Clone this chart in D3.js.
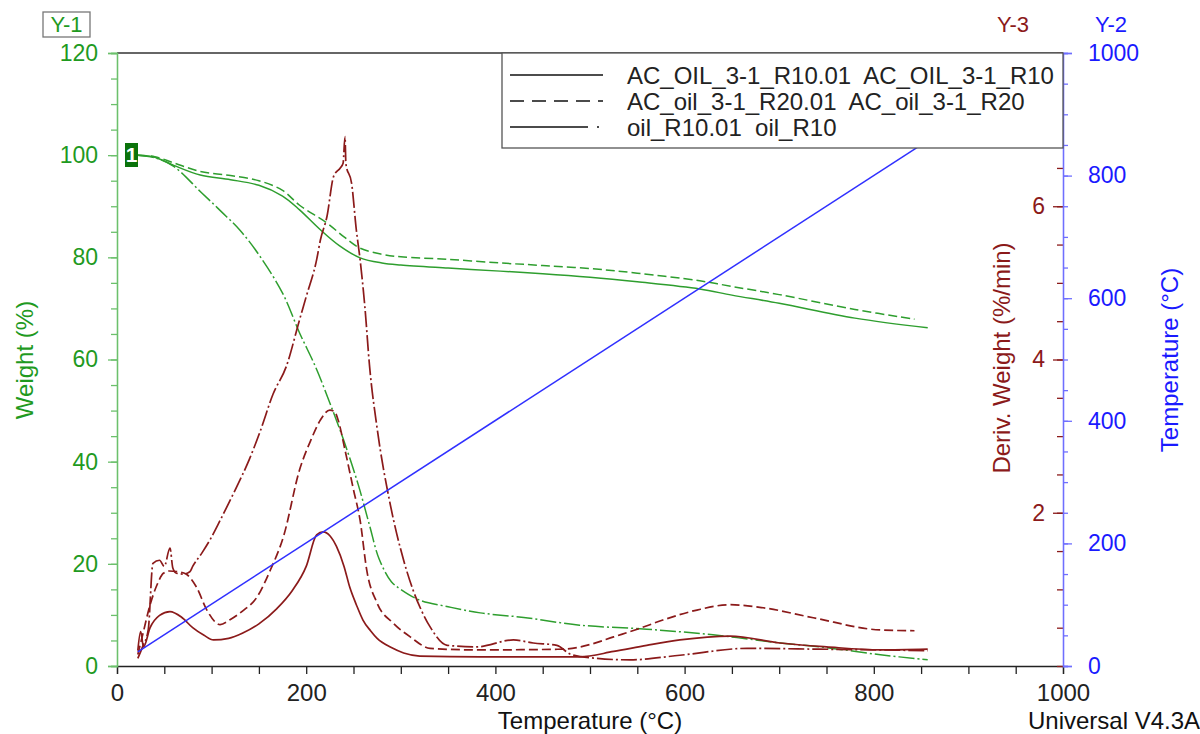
<!DOCTYPE html>
<html>
<head>
<meta charset="utf-8">
<script src="https://cdn.jsdelivr.net/npm/d3@7"></script>
<style>
  body { margin: 0; background: #fff; }
  svg text { font-family: "Liberation Sans", Arial, sans-serif; }
</style>
</head>
<body>
<div id="chart"></div>
<script>
// ====== TGA / DTG plot ======
// weight (Y-1), sample temperature (Y-2) and deriv. weight (Y-3) vs temperature

// legend entries (solid, dashed, dash-dot)
const sampleNames = ["AC_OIL_3-1_R10.01  AC_OIL_3-1_R10",
                     "AC_oil_3-1_R20.01  AC_oil_3-1_R20",
                     "oil_R10.01  oil_R10"];

// tick labels
const xLabels = [0, 200, 400, 600, 800, 1000];
const weightLabels = [0, 20, 40, 60, 80, 100, 120];
const tempLabels = [0, 200, 400, 600, 800, 1000];
const derivLabels = [2, 4, 6];

// weight (%) vs temperature (°C)
const wR10 = [[22,100],[40,99.6],[60,98],[88,96.1],[120,95.2],[150,94.1],[175,92],[193,89.3],
  [215,85.4],[235,82.3],[257,79.9],[280,78.9],[300,78.5],[350,77.9],[405,77.3],[450,76.8],
  [500,76.1],[550,75.2],[616,73.8],[650,72.6],[700,71],[780,68.1],[857,66.2]];
const wR20 = [[22,100],[40,99.7],[60,98.5],[88,96.8],[120,96],[150,95],[175,93.1],[193,90.2],
  [222,86.7],[240,84],[257,81.8],[280,80.6],[300,80.1],[350,79.6],[405,78.9],[450,78.4],
  [500,77.8],[550,76.9],[616,75.4],[650,74.3],[700,72.7],[780,69.8],[843,67.9]];
const wOil = [[22,100],[40,99.5],[60,97.8],[88,92.9],[110,89],[130,85.3],[150,80.5],[175,73],
  [193,65.2],[210,58.5],[225,51.5],[240,44],[255,35.5],[267,27.5],[277,21],[290,16.5],[300,15],
  [320,12.9],[350,11.6],[384,10.4],[430,9.5],[489,8.0],[560,7.2],[630,6.1],[701,4.5],[750,3.6],
  [807,2.2],[857,1.2]];

// deriv. weight (%/min) vs temperature (°C)
const dR10 = [[22,0.2],[25,0.45],[28,0.25],[35,0.5],[45,0.66],[56,0.71],[68,0.64],[80,0.5],
  [92,0.4],[102,0.34],[118,0.36],[133,0.43],[150,0.55],[169,0.75],[185,0.98],[200,1.3],
  [211,1.71],[218,1.75],[225,1.7],[232,1.56],[240,1.3],[246,1.03],[253,0.8],[260,0.6],
  [268,0.46],[275,0.36],[290,0.24],[303,0.17],[320,0.13],[384,0.12],[450,0.12],[489,0.12],
  [525,0.19],[560,0.27],[595,0.34],[648,0.39],[701,0.3],[750,0.25],[807,0.21],[857,0.22]];
const dR20 = [[22,0.15],[27,0.4],[35,0.8],[42,1.05],[49,1.21],[55,1.24],[65,1.23],[73,1.2],
  [84,1.03],[95,0.73],[109,0.54],[119,0.6],[133,0.72],[148,0.9],[162,1.25],[176,1.69],
  [193,2.56],[205,2.95],[215,3.21],[225,3.34],[230,3.32],[234,3.2],[241,2.82],[250,2.3],
  [257,1.9],[264,1.25],[275,0.82],[292,0.56],[310,0.38],[331,0.23],[380,0.21],[472,0.22],
  [500,0.28],[525,0.38],[550,0.48],[577,0.6],[613,0.73],[648,0.8],[683,0.76],[736,0.63],
  [807,0.47],[843,0.46]];
const dOil = [[22,0.1],[27,0.25],[33,0.47],[38,1.34],[45,1.38],[50,1.3],[56,1.54],[59,1.28],
  [63,1.21],[70,1.2],[77,1.23],[80,1.3],[90,1.48],[98,1.64],[109,1.9],[125,2.3],[140,2.7],
  [151,3.05],[165,3.55],[179,3.91],[193,4.52],[200,4.82],[211,5.3],[215,5.56],[222,5.87],
  [229,6.39],[236,6.5],[239,6.56],[241,6.91],[242,6.55],[248,6.3],[253,5.69],[257,5.3],
  [262,4.69],[267,3.91],[275,3.1],[289,2.1],[303,1.38],[313,0.99],[322,0.72],[331,0.51],
  [349,0.27],[380,0.25],[419,0.34],[440,0.3],[465,0.27],[480,0.15],[507,0.1],[542,0.08],
  [595,0.14],[666,0.23],[740,0.22],[807,0.21],[857,0.2]];

// sample temperature (°C) vs temperature (°C)
const tempRamp = [[22,23],[857,857]];

let W = 1200, H = 734;
let plot = {left: 117, right: 1063, top: 53, bottom: 666};

let green = "#2e9e2e", greenText = "#1f9a1f", darkRed = "#8b1a1a", blue = "#1a1aff";
let dashed = "9,4", dashDot = "16,3,2,3";

let svg = d3.select("#chart").append("svg")
    .attr("width", W)
    .attr("height", H);

let x = d3.scaleLinear().domain([0, 1000]).range([plot.left, plot.right]);
let yW = d3.scaleLinear().domain([0, 120]).range([plot.bottom, plot.top]);
let yT = d3.scaleLinear().domain([0, 1000]).range([plot.bottom, plot.top]);
let yD = d3.scaleLinear().domain([0, 8]).range([plot.bottom, plot.top]);

function styleAxis(g, color, size) {
    g.select(".domain").attr("stroke", color).attr("stroke-width", 1.3);
    g.selectAll(".tick line").attr("stroke", color).attr("stroke-width", 1.3);
    g.selectAll(".tick text").attr("fill", color).style("font-size", size + "px");
}

// top frame line
svg.append("line")
    .attr("x1", plot.left).attr("x2", plot.right)
    .attr("y1", plot.top).attr("y2", plot.top)
    .attr("stroke", "#333").attr("stroke-width", 1.3);

// x axis
svg.append("g")
    .attr("transform", "translate(0," + plot.bottom + ")")
    .call(d3.axisBottom(x).tickValues(d3.range(0, 1001, 50)).tickSize(8).tickPadding(10)
        .tickFormat(d => xLabels.includes(d) ? d : ""))
    .call(g => styleAxis(g, "#222", 24));

// left weight axis
svg.append("g")
    .attr("transform", "translate(" + plot.left + ",0)")
    .call(d3.axisLeft(yW).tickValues(d3.range(0, 121, 5)).tickSize(6).tickFormat(""))
    .call(g => styleAxis(g, "#6cc06c", 23));
svg.append("g")
    .attr("transform", "translate(" + plot.left + ",0)")
    .call(d3.axisLeft(yW).tickValues(weightLabels).tickSize(9).tickPadding(10))
    .call(g => styleAxis(g, "#6cc06c", 23))
    .call(g => g.selectAll(".tick text").attr("fill", greenText));

// right deriv axis (ticks inward)
svg.append("g")
    .attr("transform", "translate(" + plot.right + ",0)")
    .call(d3.axisLeft(yD).tickValues(d3.range(0, 8.01, 0.5)).tickSize(6).tickFormat(""))
    .call(g => styleAxis(g, darkRed, 23))
    .call(g => g.select(".domain").remove());
svg.append("g")
    .attr("transform", "translate(" + plot.right + ",0)")
    .call(d3.axisLeft(yD).tickValues(derivLabels).tickSize(10).tickPadding(8))
    .call(g => styleAxis(g, darkRed, 23))
    .call(g => g.select(".domain").remove());

// right temperature axis (ticks outward)
svg.append("g")
    .attr("transform", "translate(" + plot.right + ",0)")
    .call(d3.axisRight(yT).tickValues(d3.range(0, 1001, 50)).tickSize(5).tickFormat(""))
    .call(g => styleAxis(g, "#6f6fff", 23));
svg.append("g")
    .attr("transform", "translate(" + plot.right + ",0)")
    .call(d3.axisRight(yT).tickValues(tempLabels).tickSize(9).tickPadding(16).tickFormat(d3.format("d")))
    .call(g => styleAxis(g, "#6f6fff", 23))
    .call(g => g.selectAll(".tick text").attr("fill", blue));

// curves (weight curves smooth, deriv curves keep their spikes)
let series = [
    {data: wR10, y: yW, color: green, dash: null, width: 1.5, smooth: true},
    {data: wR20, y: yW, color: green, dash: dashed, width: 1.5, smooth: true},
    {data: wOil, y: yW, color: green, dash: dashDot, width: 1.5, smooth: true},
    {data: dR10, y: yD, color: darkRed, dash: null, width: 1.7},
    {data: dR20, y: yD, color: darkRed, dash: dashed, width: 1.7},
    {data: dOil, y: yD, color: darkRed, dash: dashDot, width: 1.7},
    {data: tempRamp, y: yT, color: "#3030ff", dash: null, width: 1.5}
];

series.forEach(function(s) {
    let line = d3.line()
        .x(function(d) { return x(d[0]); })
        .y(function(d) { return s.y(d[1]); })
        .curve(s.smooth ? d3.curveCatmullRom.alpha(0.5) : d3.curveMonotoneX);
    svg.append("path")
        .datum(s.data)
        .attr("d", line)
        .attr("fill", "none")
        .attr("stroke", s.color)
        .attr("stroke-width", s.width)
        .attr("stroke-dasharray", s.dash);
});

// start marker "1"
svg.append("rect")
    .attr("x", 125).attr("y", 143).attr("width", 13).attr("height", 24)
    .attr("fill", "#0b730b");
svg.append("text")
    .attr("x", 131.5).attr("y", 162)
    .style("text-anchor", "middle")
    .style("font-size", "21px")
    .style("font-weight", "bold")
    .attr("fill", "#fff")
    .text("1");

// legend
let legend = svg.append("g").attr("class", "legend");
legend.append("rect")
    .attr("x", 502).attr("y", plot.top).attr("width", plot.right - 502).attr("height", 95)
    .attr("fill", "#fff").attr("stroke", "#555").attr("stroke-width", 1.3);

let legendDash = [null, "14,8", "78,9,2,100"];
let row = legend.selectAll(".legend-row")
    .data(sampleNames)
    .enter().append("g")
    .attr("class", "legend-row")
    .attr("transform", function(d, i) { return "translate(0," + (75 + i * 26) + ")"; });

row.append("line")
    .attr("x1", 510).attr("x2", function(d, i) { return i === 2 ? 600 : 603; })
    .attr("y1", 0).attr("y2", 0)
    .attr("stroke", "#111").attr("stroke-width", 1.5)
    .attr("stroke-dasharray", function(d, i) { return legendDash[i]; });

row.append("text")
    .attr("x", 627).attr("y", 8.5)
    .style("font-size", "24px")
    .style("white-space", "pre")
    .attr("fill", "#222")
    .text(function(d) { return d; });

// axis headers
svg.append("rect")
    .attr("x", 43).attr("y", 12).attr("width", 47).attr("height", 25)
    .attr("fill", "#fff").attr("stroke", "#777").attr("stroke-width", 1.3);
svg.append("text")
    .attr("x", 66.5).attr("y", 32)
    .style("text-anchor", "middle").style("font-size", "22px")
    .attr("fill", greenText).text("Y-1");
svg.append("text")
    .attr("x", 1013).attr("y", 32)
    .style("text-anchor", "middle").style("font-size", "22px")
    .attr("fill", darkRed).text("Y-3");
svg.append("text")
    .attr("x", 1111).attr("y", 32)
    .style("text-anchor", "middle").style("font-size", "22px")
    .attr("fill", blue).text("Y-2");

// axis titles
svg.append("text")
    .attr("transform", "translate(33,360) rotate(-90)")
    .style("text-anchor", "middle").style("font-size", "24px")
    .attr("fill", greenText).text("Weight (%)");
svg.append("text")
    .attr("transform", "translate(1010,358) rotate(-90)")
    .style("text-anchor", "middle").style("font-size", "24px")
    .attr("fill", darkRed).text("Deriv. Weight (%/min)");
svg.append("text")
    .attr("transform", "translate(1178,360) rotate(-90)")
    .style("text-anchor", "middle").style("font-size", "24px")
    .attr("fill", blue).text("Temperature (°C)");
svg.append("text")
    .attr("x", 590).attr("y", 729)
    .style("text-anchor", "middle").style("font-size", "24px")
    .attr("fill", "#111").text("Temperature (°C)");
svg.append("text")
    .attr("x", 1028).attr("y", 729)
    .style("font-size", "24px")
    .attr("fill", "#111").text("Universal V4.3A");
</script>
</body>
</html>
